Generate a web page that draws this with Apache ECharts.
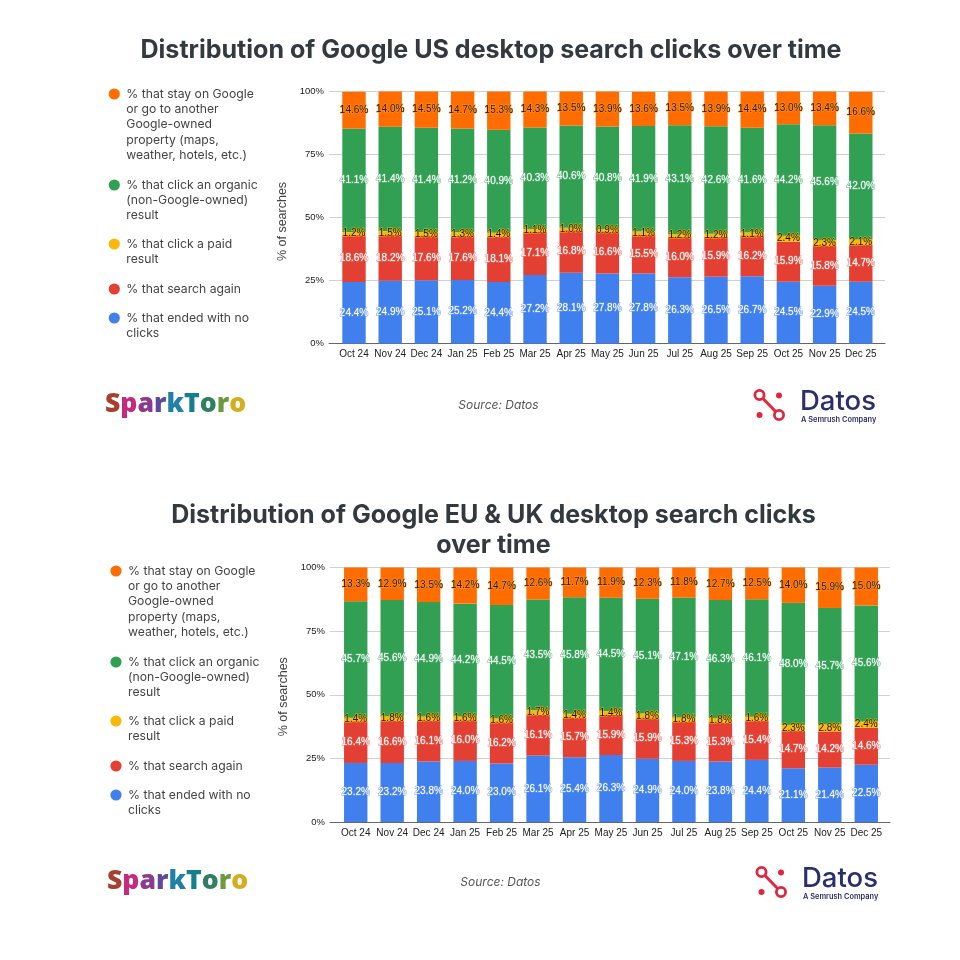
<!DOCTYPE html>
<html>
<head>
<meta charset="utf-8">
<style>html,body{margin:0;padding:0;background:#fff}#chart{width:960px;height:960px}</style>
<script src="https://cdn.jsdelivr.net/npm/echarts@6/dist/echarts.min.js"></script>
</head>
<body>
<div id="chart"></div>
<script>
// Monthly categories shared by both charts
const months = ['Oct 24','Nov 24','Dec 24','Jan 25','Feb 25','Mar 25','Apr 25','May 25','Jun 25','Jul 25','Aug 25','Sep 25','Oct 25','Nov 25','Dec 25'];
const yTicks = [0, 25, 50, 75, 100];

// US desktop shares, percent of searches
const usNoClick = [24.4,24.9,25.1,25.2,24.4,27.2,28.1,27.8,27.8,26.3,26.5,26.7,24.5,22.9,24.5];
const usSearchAgain = [18.6,18.2,17.6,17.6,18.1,17.1,16.8,16.6,15.5,16.0,15.9,16.2,15.9,15.8,14.7];
const usPaid = [1.2,1.5,1.5,1.3,1.4,1.1,1.0,0.9,1.1,1.2,1.2,1.1,2.4,2.3,2.1];
const usOrganic = [41.1,41.4,41.4,41.2,40.9,40.3,40.6,40.8,41.9,43.1,42.6,41.6,44.2,45.6,42.0];
const usGoogle = [14.6,14.0,14.5,14.7,15.3,14.3,13.5,13.9,13.6,13.5,13.9,14.4,13.0,13.4,16.6];

// EU & UK desktop shares, percent of searches
const euNoClick = [23.2,23.2,23.8,24.0,23.0,26.1,25.4,26.3,24.9,24.0,23.8,24.4,21.1,21.4,22.5];
const euSearchAgain = [16.4,16.6,16.1,16.0,16.2,16.1,15.7,15.9,15.9,15.3,15.3,15.4,14.7,14.2,14.6];
const euPaid = [1.4,1.8,1.6,1.6,1.6,1.7,1.4,1.4,1.8,1.8,1.8,1.6,2.3,2.8,2.4];
const euOrganic = [45.7,45.6,44.9,44.2,44.5,43.5,45.8,44.5,45.1,47.1,46.3,46.1,48.0,45.7,45.6];
const euGoogle = [13.3,12.9,13.5,14.2,14.7,12.6,11.7,11.9,12.3,11.8,12.7,12.5,14.0,15.9,15.0];

const seriesNames = ['% that ended with no clicks','% that search again','% that click a paid result','% that click an organic (non-Google-owned) result','% that stay on Google or go to another Google-owned property (maps, weather, hotels, etc.)'];
const seriesColors = ['#3f80ee','#e33f33','#f9b90a','#31a052','#ff6d01'];
const labelColors = ['#ffffff','#ffffff','#1c1400','#ffffff','#2a1000'];
const haloColors = ['#6f9ef0','#ee7d72','#f9b90a','#67b983','#fb9a2a'];

// Legend entries, top to bottom, wrapped as drawn
const legendLines = [
  {idx:4, lines:['% that stay on Google','or go to another','Google-owned','property (maps,','weather, hotels, etc.)']},
  {idx:3, lines:['% that click an organic','(non-Google-owned)','result']},
  {idx:2, lines:['% that click a paid','result']},
  {idx:1, lines:['% that search again']},
  {idx:0, lines:['% that ended with no','clicks']}
];
const legendOffsets = [0, 91, 150, 195, 224];

const titleUS = 'Distribution of Google US desktop search clicks over time';
const titleEU1 = 'Distribution of Google EU & UK desktop search clicks';
const titleEU2 = 'over time';
const sourceText = 'Source: Datos';

const sparkLetters = ['S','p','a','r','k','T','o','r','o'];
const sparkColors = ['#a8402f','#c42a7d','#8a3b8f','#5d4a9c','#1f80a8','#14808f','#2f7f62','#6c9a3c','#d6ad1f'];

const FONT_UI = 'Inter';
const FONT_CHART = '"Liberation Sans"';

// Each panel has a frame grid (gridlines, y labels, baseline) and a narrower
// inner grid that carries the bars, so the lines overhang the first and last bar.
function frameAxes(i, namePad) {
  return {
    x: {type:'category', gridIndex:i, data:[], boundaryGap:true,
      axisTick:{show:false}, axisLabel:{show:false},
      axisLine:{lineStyle:{color:'#666666',width:1}}},
    y: {type:'value', gridIndex:i, min:yTicks[0], max:yTicks[yTicks.length-1], interval:25,
      name:'% of searches', nameLocation:'middle', nameGap:33,
      nameTextStyle:{color:'#444444',fontFamily:FONT_CHART,fontSize:12.5,padding:[0,namePad,0,0]},
      axisLine:{show:false}, axisTick:{show:false},
      axisLabel:{color:'#222222',fontFamily:FONT_CHART,fontSize:9.5,margin:5,formatter:'{value}%'},
      splitLine:{lineStyle:{color:'#d0d0d0',width:1}}}
  };
}

function barAxes(i) {
  return {
    x: {type:'category', gridIndex:i, data:months, axisTick:{show:false}, axisLine:{show:false},
      axisLabel:{color:'#222222',fontFamily:FONT_CHART,fontSize:10,margin:6,interval:0}},
    y: {type:'value', gridIndex:i, min:yTicks[0], max:yTicks[yTicks.length-1], interval:25,
      axisLine:{show:false}, axisTick:{show:false}, axisLabel:{show:false}, splitLine:{show:false}}
  };
}

function makeSeries(i, arrays) {
  return arrays.map((values, s) => ({
    name:seriesNames[s], type:'bar', stack:'total'+i, xAxisIndex:i, yAxisIndex:i,
    data:values, barWidth:23.4,
    itemStyle:{color:seriesColors[s]},
    label:{
      show:true, position:'inside', formatter:p => p.value.toFixed(1)+'%',
      color:labelColors[s], fontFamily:FONT_CHART, fontSize:10,
      textBorderColor:haloColors[s], textBorderWidth:1
    }
  }));
}

function legendGraphics(x, y) {
  const out = [];
  legendLines.forEach((entry, k) => {
    const top = y + legendOffsets[k];
    out.push({type:'circle', shape:{cx:x, cy:top, r:5.6}, style:{fill:seriesColors[entry.idx]}});
    out.push({type:'text', x:x+12, y:top-7.5, style:{
      text:entry.lines.join('\n'), fill:'#444444', font:'400 12.2px '+FONT_UI, lineHeight:15.3
    }});
  });
  return out;
}

function sparkLogo(x, y) {
  const rich = {};
  let text = '';
  sparkLetters.forEach((ch, i) => {
    rich['l'+i] = {fill:sparkColors[i], font:'800 26.6px "Open Sans"'};
    text += '{l'+i+'|'+ch+'}';
  });
  return [{type:'text', x:x, y:y, style:{text:text, rich:rich, verticalAlign:'middle', fill:'#000'}}];
}

function datosLogo(x, y) {
  const red = '#e0263f';
  const navy = '#2b2e6e';
  return [
    {type:'line', shape:{x1:x+6.5,y1:y+4,x2:x+26,y2:y+24}, style:{stroke:red,lineWidth:3}},
    {type:'circle', shape:{cx:x+6.5,cy:y+4,r:4.6}, style:{fill:'#fff',stroke:red,lineWidth:2.8}},
    {type:'circle', shape:{cx:x+26,cy:y+24,r:4.6}, style:{fill:'#fff',stroke:red,lineWidth:2.8}},
    {type:'circle', shape:{cx:x+26,cy:y+4.6,r:3}, style:{fill:red}},
    {type:'circle', shape:{cx:x+6.5,cy:y+24,r:3}, style:{fill:red}},
    {type:'text', x:x+47, y:y-3, style:{text:'Datos', fill:navy, font:'500 27.5px '+FONT_UI}},
    {type:'text', x:x+48, y:y+25, style:{text:'A Semrush Company', fill:navy, font:'600 7.4px '+FONT_UI}}
  ];
}

function centredText(text, cx, cy, font, fill) {
  return {type:'text', x:cx, y:cy, style:{text:text, font:font, fill:fill, align:'center', verticalAlign:'middle'}};
}

const frameTop = frameAxes(0, 8);
const frameBottom = frameAxes(1, 4);
const barsTop = barAxes(2);
const barsBottom = barAxes(3);
const titleFont = '700 25.05px '+FONT_UI;

const option = {
  animation:false,
  backgroundColor:'#ffffff',
  grid:[
    {left:329, top:91.5, width:556, height:252},
    {left:330, top:567.5, width:560, height:254.5},
    {left:335.9, top:91.5, width:543, height:252},
    {left:337.5, top:567.5, width:547, height:254.5}
  ],
  xAxis:[frameTop.x, frameBottom.x, barsTop.x, barsBottom.x],
  yAxis:[frameTop.y, frameBottom.y, barsTop.y, barsBottom.y],
  series:[
    ...makeSeries(2,[usNoClick,usSearchAgain,usPaid,usOrganic,usGoogle]),
    ...makeSeries(3,[euNoClick,euSearchAgain,euPaid,euOrganic,euGoogle])
  ],
  graphic:{elements:[
    centredText(titleUS, 491, 50, titleFont, '#333a3f'),
    centredText(titleEU1, 493.5, 515, titleFont, '#333a3f'),
    centredText(titleEU2, 493.5, 545, titleFont, '#333a3f'),
    centredText(sourceText, 498.5, 405, 'italic 400 12px '+FONT_UI, '#555555'),
    centredText(sourceText, 500.5, 882, 'italic 400 12px '+FONT_UI, '#555555'),
    ...legendGraphics(114.3, 94),
    ...legendGraphics(116, 571),
    ...sparkLogo(105, 404),
    ...sparkLogo(107, 881),
    ...datosLogo(753, 391),
    ...datosLogo(755, 868)
  ]}
};

const chart = echarts.init(document.getElementById('chart'), null, {renderer:'canvas'});
chart.setOption(option);
</script>
</body>
</html>
